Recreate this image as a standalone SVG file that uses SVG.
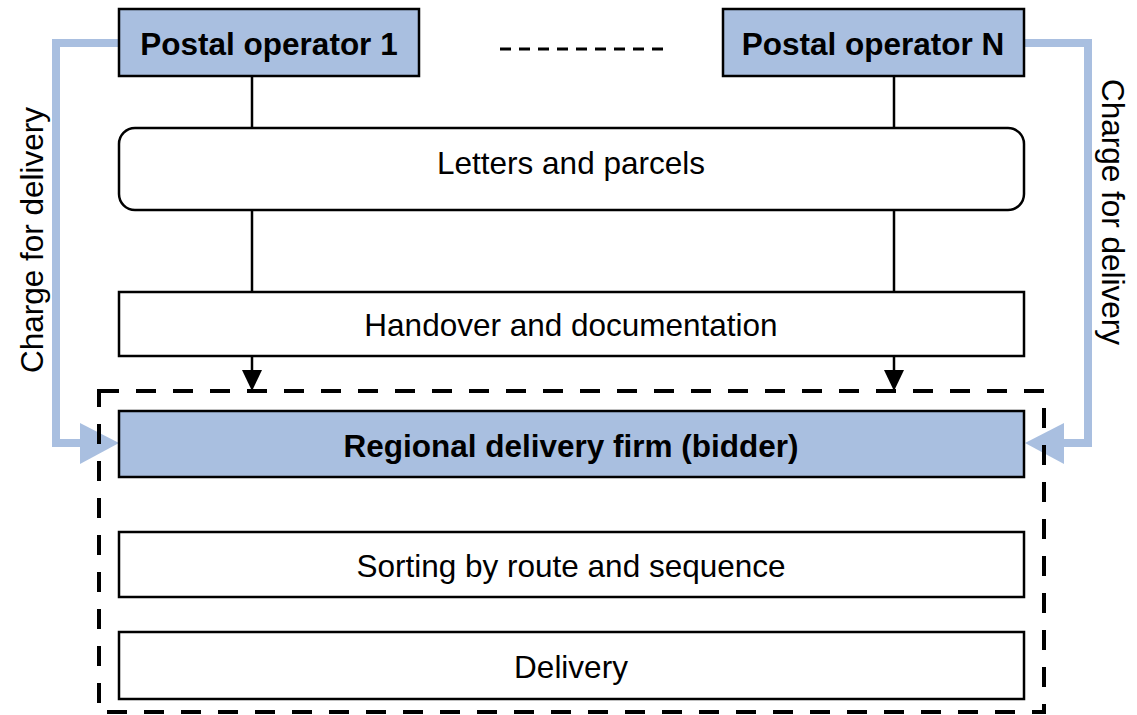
<svg xmlns="http://www.w3.org/2000/svg" width="1137" height="715" viewBox="0 0 1137 715">
<style>
.box{fill:#ffffff;stroke:#000;stroke-width:2.5}
.blue{fill:#a9bfe0;stroke:#000;stroke-width:2.5}
.t{font-family:"Liberation Sans",Arial,sans-serif;font-size:31.5px;fill:#000;text-anchor:middle}
.b{font-weight:bold}
.ln{stroke:#000;stroke-width:2.5;fill:none}
.charge{stroke:#a9bfe0;stroke-width:8;fill:none}
</style>
<rect width="1137" height="715" fill="#ffffff"/>
<g id="connectors">
<path class="charge" d="M119,43 H56 V443 H82"/>
<polygon points="80,423 119,443 80,464" fill="#a9bfe0"/>
<path class="charge" d="M1024,43 H1088 V443 H1062"/>
<polygon points="1064,423 1025,443 1064,464" fill="#a9bfe0"/>
<line class="ln" x1="252" y1="76" x2="252" y2="128"/>
<line class="ln" x1="894" y1="76" x2="894" y2="128"/>
<line class="ln" x1="252" y1="210" x2="252" y2="292"/>
<line class="ln" x1="894" y1="210" x2="894" y2="292"/>
<line class="ln" x1="252" y1="356" x2="252" y2="372"/>
<line class="ln" x1="894" y1="356" x2="894" y2="372"/>
<polygon points="242,370 262,370 252,391"/>
<polygon points="884,370 904,370 894,391"/>
<line x1="500" y1="49" x2="663" y2="49" stroke="#000" stroke-width="3" stroke-dasharray="11,8"/>
</g>
<g id="dashed-frame">
<rect x="99" y="391" width="945" height="321" fill="none" stroke="#000" stroke-width="4" stroke-dasharray="20,17"/>
</g>
<g id="op1">
<rect class="blue" x="119" y="9" width="300" height="67"/>
<text class="t b" x="269" y="55">Postal operator 1</text>
</g>
<g id="opN">
<rect class="blue" x="723" y="9" width="301" height="67"/>
<text class="t b" x="873" y="55">Postal operator N</text>
</g>
<g id="letters">
<rect class="box" x="119" y="128" width="905" height="82" rx="16"/>
<text class="t" x="571" y="174">Letters and parcels</text>
</g>
<g id="handover">
<rect class="box" x="119" y="292" width="905" height="64"/>
<text class="t" x="571" y="336">Handover and documentation</text>
</g>
<g id="regional">
<rect class="blue" x="119" y="411" width="905" height="66"/>
<text class="t b" x="571" y="457">Regional delivery firm (bidder)</text>
</g>
<g id="sorting">
<rect class="box" x="119" y="532" width="905" height="65"/>
<text class="t" x="571" y="577">Sorting by route and sequence</text>
</g>
<g id="delivery">
<rect class="box" x="119" y="632" width="905" height="67"/>
<text class="t" x="571" y="678">Delivery</text>
</g>
<g id="charge-labels">
<text class="t" transform="translate(43,240) rotate(-90)">Charge for delivery</text>
<text class="t" transform="translate(1102,212) rotate(90)">Charge for delivery</text>
</g>
</svg>
